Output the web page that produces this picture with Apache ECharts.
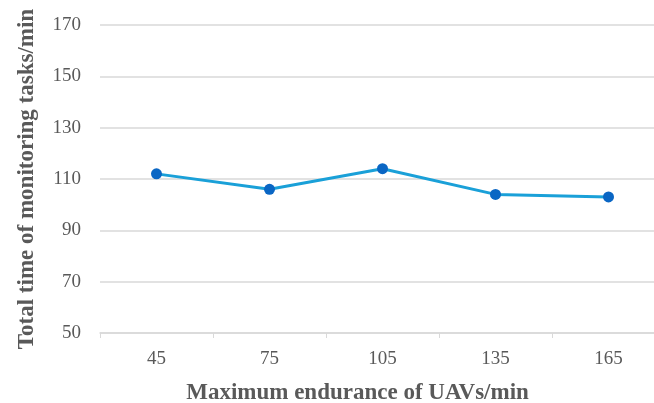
<!DOCTYPE html>
<html>
<head>
<meta charset="utf-8">
<script src="https://cdn.jsdelivr.net/npm/echarts@6/dist/echarts.min.js"></script>
<style>
  html, body { margin: 0; padding: 0; background: #fff; }
  #chart { width: 654px; height: 403px; }
</style>
</head>
<body>
<div id="chart"></div>
<script>
// Maximum endurance of UAVs (min) on the x axis
const enduranceCategories = ['45', '75', '105', '135', '165'];
// Total time of monitoring tasks (min) for each endurance setting
const totalTaskTime = [112, 106, 114, 104, 103];
// Value axis range
const yMin = 50;
const yMax = 170;
const yStep = 20;

const serif = '"Times New Roman", "Liberation Serif", serif';
const labelGray = '#595959';

const chart = echarts.init(document.getElementById('chart'), null, { renderer: 'canvas' });
chart.setOption({
  animation: false,
  backgroundColor: '#ffffff',
  grid: {
    left: 100, top: 25, width: 565, height: 308,
    containLabel: false, outerBoundsMode: 'none'
  },
  xAxis: {
    type: 'category',
    data: enduranceCategories,
    boundaryGap: true,
    axisLine: { show: true, lineStyle: { color: '#d9d9d9', width: 1.5 } },
    axisTick: { show: true, length: 5, lineStyle: { color: '#d9d9d9', width: 1 } },
    axisLabel: { color: labelGray, fontFamily: serif, fontSize: 19, margin: 17 },
    name: 'Maximum endurance of UAVs/min',
    nameLocation: 'middle',
    nameGap: 49,
    nameTextStyle: {
      color: labelGray, fontFamily: serif, fontSize: 23, fontWeight: 'bold',
      padding: [0, 50, 0, 0]
    }
  },
  yAxis: {
    type: 'value',
    min: yMin,
    max: yMax,
    interval: yStep,
    axisLine: { show: false },
    axisTick: { show: false },
    splitLine: { show: true, lineStyle: { color: '#d9d9d9', width: 1.5 } },
    axisLabel: { color: labelGray, fontFamily: serif, fontSize: 19, margin: 19 },
    name: 'Total time of monitoring tasks/min',
    nameLocation: 'middle',
    nameGap: 61,
    nameRotate: 90,
    nameTextStyle: { color: labelGray, fontFamily: serif, fontSize: 23, fontWeight: 'bold' }
  },
  series: [{
    type: 'line',
    data: totalTaskTime,
    symbol: 'circle',
    symbolSize: 11,
    lineStyle: { color: '#1aa0d8', width: 3 },
    itemStyle: { color: '#0a66c4' }
  }]
});
</script>
</body>
</html>
